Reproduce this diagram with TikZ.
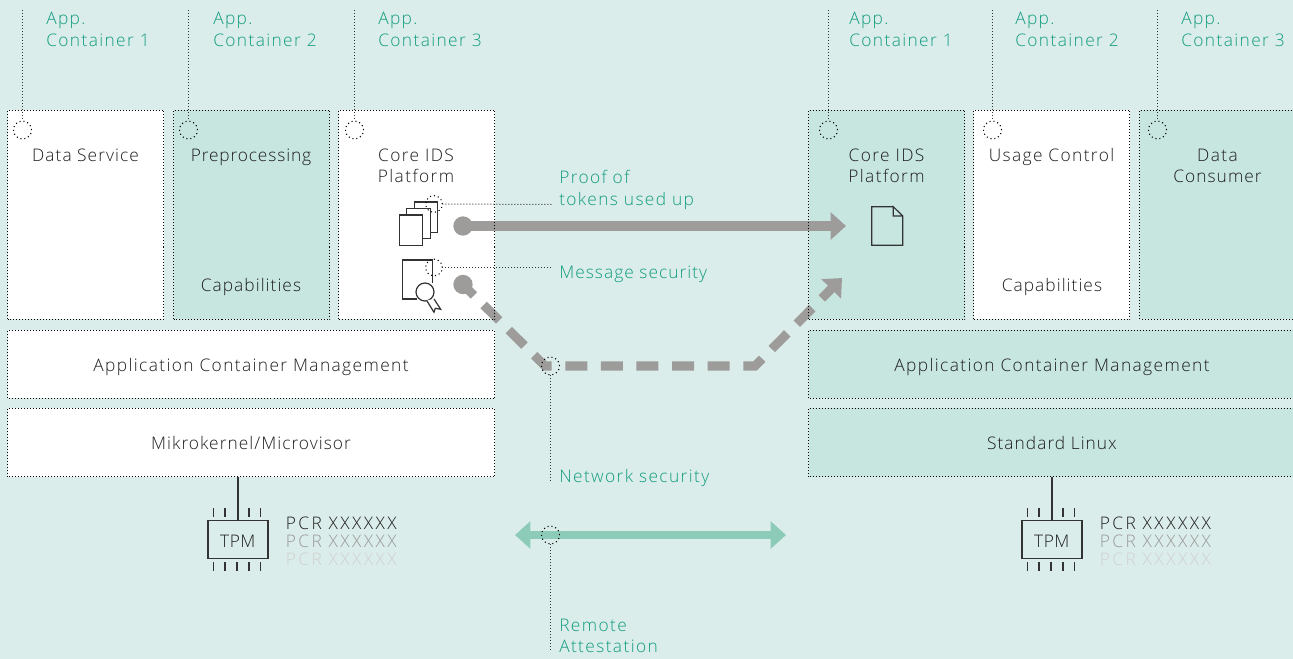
\documentclass[tikz,border=0pt]{standalone}
\usepackage{fontspec}
\setmainfont{Open Sans Light}[LetterSpace=8]
\newfontfamily\pcrfam{Open Sans Light}[LetterSpace=14]
\newfontfamily\tpmfam{Open Sans Light}[LetterSpace=3]
\newfontfamily\tightfam{Open Sans Light}[LetterSpace=5]
\newfontfamily\midfam{Open Sans Light}[LetterSpace=6]
\usetikzlibrary{arrows.meta}
\definecolor{bgc}{HTML}{DBEDEA}
\definecolor{panel}{HTML}{C7E6E0}
\definecolor{tealtx}{HTML}{129C80}
\definecolor{greyar}{HTML}{9D9C9A}
\definecolor{greenar}{HTML}{8CCBB8}
\definecolor{inkc}{HTML}{1E1E1E}
\definecolor{iconc}{HTML}{333333}
\tikzset{
  px/.style={x=0.75pt,y=-0.75pt},
  boxw/.style={anchor=north west,inner sep=0pt,outer sep=0pt,minimum width=#1*0.75pt},
  dotbox/.style={draw=black,line width=0.75pt,dash pattern=on 0.75pt off 1.5pt},
  leader/.style={draw=iconc,line width=0.75pt,dash pattern=on 0.75pt off 1.5pt},
  ring/.style={circle,draw=black,line width=0.8pt,dash pattern=on 0.8pt off 2.2pt,minimum size=13.5pt,inner sep=0pt,outer sep=0pt},
  smallring/.style={ring,minimum size=12.5pt},
  lab/.style={anchor=base,inner sep=0pt,text=inkc,font=\fontsize{13}{16.5}\selectfont,align=center},
  tlab/.style={anchor=base west,inner sep=0pt,text=tealtx,font=\fontsize{13}{16.5}\selectfont,align=left},
  icon/.style={draw=iconc,line width=0.9pt},
  greyline/.style={draw=greyar,line width=6.8pt},
  dot/.style={circle,fill=greyar,minimum size=14.5pt,inner sep=0pt,outer sep=0pt},
  pcr/.style={anchor=base west,inner sep=0pt,font=\pcrfam\fontsize{13}{16.5}\selectfont},
  tpmbox/.style={draw=iconc,line width=1.1pt,minimum width=45pt,minimum height=28.5pt,inner sep=0pt,outer sep=0pt,text=inkc,text height=11.4pt,text depth=0pt,font=\tpmfam\fontsize{13}{16.5}\selectfont},
  pin/.style={draw=iconc,line width=0.9pt},
}
\begin{document}
\begin{tikzpicture}[px]
\useasboundingbox (0,0) rectangle (1293,659);
\fill[bgc] (0,0) rectangle (1293,659);
% box fills
\node[boxw=156,minimum height=156.75pt,fill=white] (l1) at (7.5,110.5) {};
\node[boxw=156,minimum height=156.75pt,fill=panel] (l2) at (173.5,110.5) {};
\node[boxw=156,minimum height=156.75pt,fill=white] (l3) at (338.5,110.5) {};
\node[boxw=487,minimum height=51pt,fill=white] (lm) at (7.5,330.5) {};
\node[boxw=487,minimum height=51pt,fill=white] (lk) at (7.5,408.5) {};
\node[boxw=156,minimum height=156.75pt,fill=panel] (r1) at (808.5,110.5) {};
\node[boxw=156,minimum height=156.75pt,fill=white] (r2) at (973.5,110.5) {};
\node[boxw=154,minimum height=156.75pt,fill=panel] (r3) at (1139.5,110.5) {};
\node[boxw=485,minimum height=51pt,fill=panel] (rm) at (808.5,330.5) {};
\node[boxw=485,minimum height=51pt,fill=panel] (rk) at (808.5,408.5) {};
% arrows
\node[dot] (s1) at (463,226) {};
\node[dot] (s2) at (463,284.5) {};
\coordinate (t1) at (846,226);
\coordinate (t2) at (842,278);
\coordinate (k1) at (545,366);
\coordinate (k2) at (755,366);
\draw[greyline,-{Triangle[length=11.5pt,width=20pt]}] (s1.center) -- (t1);
\draw[greyline,dash pattern=on 16.5pt off 10.2pt,dash phase=4.9pt,-{Triangle[length=11.5pt,width=20pt]}] (s2.center) -- (k1) -- (k2) -- (t2);
\coordinate (g1) at (515,535);
\coordinate (g2) at (786,535);
\draw[draw=greenar,line width=6.4pt,{Triangle[length=11.5pt,width=20pt]}-{Triangle[length=11.5pt,width=20pt]}] (g1) -- (g2);
% box outlines
\foreach \b in {l1,l2,l3,lm,lk,r1,r2,r3,rm,rk}
  \draw[dotbox] (\b.south west) rectangle (\b.north east);
% top leaders and rings
\foreach \n/\x in {a/22.5,b/188.5,c/354.5,d/828.5,e/992.5,f/1157.5}{
  \coordinate (top\n) at (\x,10);
  \node[ring] (ring\n) at (\x,130) {};
  \draw[leader] (top\n) -- (ring\n.north);
}
% container labels
\foreach \n/\x/\k in {a/46/1,b/213/2,c/378/3,d/849/1,e/1015/2,f/1181/3}{
  \node[tlab] (app\n) at (\x,24.3) {App.};
  \node[tlab] (con\n) at (\x,46.6) {Container \k};
}
% box labels
\node[lab] (t1a) at (85.5,161.7) {\midfam Data Service};
\node[lab] (t2a) at (251,161.7) {\tightfam Preprocessing};
\node[lab] (t2b) at (251,291.7) {\midfam Capabilities};
\node[lab] (t3a) at (416,161.7) {Core IDS};
\node[lab] (t3b) at (416,182.7) {Platform};
\node[lab] (t4a) at (886.5,161.7) {Core IDS};
\node[lab] (t4b) at (886.5,182.7) {Platform};
\node[lab] (t5a) at (1051.5,161.7) {Usage Control};
\node[lab] (t5b) at (1052,291.7) {\midfam Capabilities};
\node[lab] (t6a) at (1217.5,161.7) {Data};
\node[lab] (t6b) at (1217.5,182.7) {\midfam Consumer};
\node[lab] (t7) at (251,371.7) {Application Container Management};
\node[lab] (t8) at (251,449.7) {\midfam Mikrokernel/Microvisor};
\node[lab] (t9) at (1052,371.7) {Application Container Management};
\node[lab] (t10) at (1052,449.7) {\midfam Standard Linux};
% document stack icon
\draw[icon] (399.3,215) rectangle (422.7,245.3);
\draw[icon] (406.7,215) -- (406.7,208.3) -- (430.3,208.3) -- (430.3,238.7) -- (422.7,238.7);
\draw[icon] (414.3,208.3) -- (414.3,202) -- (437.7,202) -- (437.7,232.3) -- (430.3,232.3);
% certificate icon
\draw[icon] (432.7,283.5) -- (432.7,260) -- (402.3,260) -- (402.3,299) -- (416.5,299);
\node[circle,draw=iconc,line width=0.9pt,fill=white,minimum size=13.5pt,inner sep=0pt] (seal) at (425,292) {};
\draw[icon,fill=white] (426.7,300.5) -- (434,312.3) -- (435.3,308.3) -- (440.7,309.3) -- (434,299);
% right document
\draw[icon] (893.3,206.7) -- (871.7,206.7) -- (871.7,245.3) -- (902.7,245.3) -- (902.7,216) -- (893.3,206.7) -- (893.3,216) -- (902.7,216);
% small rings and teal labels
\node[smallring] (rp) at (434,204) {};
\node[smallring] (rm2) at (434,267.5) {};
\node[ring] (rn) at (550.5,366) {};
\node[ring] (rr) at (550.5,535) {};
\coordinate (lp) at (552,204.5);
\coordinate (lq) at (552,267.5);
\coordinate (ln) at (550.5,482);
\coordinate (lr) at (550.5,652);
\draw[leader] (rp.east) -- (lp);
\draw[leader] (rm2.east) -- (lq);
\draw[leader] (rn.south) -- (ln);
\draw[leader] (rr.south) -- (lr);
\node[tlab] (p1) at (559,183.5) {Proof of};
\node[tlab] (p2) at (559,205.5) {tokens used up};
\node[tlab] (p3) at (559,278.5) {\midfam Message security};
\node[tlab] (p4) at (559,482.3) {Network security};
\node[tlab] (p5) at (559,631.3) {Remote};
\node[tlab] (p6) at (559,652.3) {Attestation};
% TPM units
\foreach \n/\d in {L/0,R/814}{
  \node[tpmbox] (tpm\n) at (237.8+\d,539.7) {TPM};
  \foreach \o in {-23.7,-12,12,23.7}{
    \draw[pin] (237+\d+\o,508.3) -- (237+\d+\o,517.3);
  }
  \foreach \o in {-23.7,-12,0,12,23.7}{
    \draw[pin] (237+\d+\o,562) -- (237+\d+\o,570.7);
  }
  \node[pcr,text=inkc] (pa\n) at (285.5+\d,529) {PCR XXXXXX};
  \node[pcr,text=black!40] (pb\n) at (285.5+\d,547) {PCR XXXXXX};
  \node[pcr,text=black!18] (pc\n) at (285.5+\d,565) {PCR XXXXXX};
}
\draw[draw=iconc,line width=1.1pt] (lk.south west -| tpmL.north) -- (tpmL.north);
\draw[draw=iconc,line width=1.1pt] (rk.south west -| tpmR.north) -- (tpmR.north);
\end{tikzpicture}
\end{document}
